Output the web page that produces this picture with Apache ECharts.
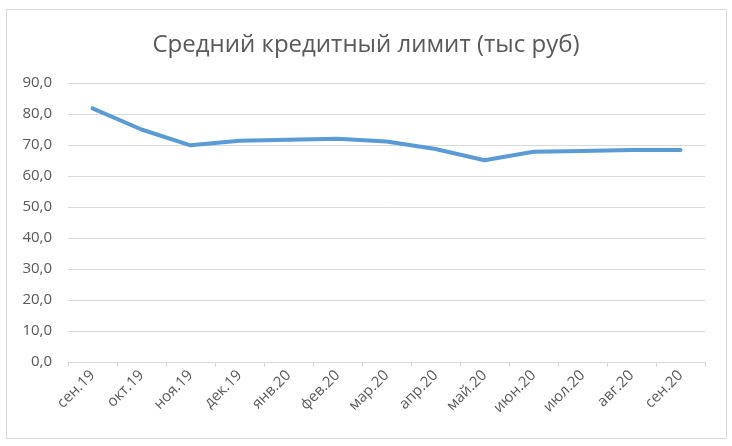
<!DOCTYPE html>
<html>
<head>
<meta charset="UTF-8">
<title></title>
<script src="https://cdn.jsdelivr.net/npm/echarts@6/dist/echarts.min.js"></script>
<style>
* { margin: 0; padding: 0; }
html, body { background: #fff; }
#app { width: 732px; height: 446px; }
</style>
</head>
<body>
<div id="app"></div>
<script>
var months = ['сен.19', 'окт.19', 'ноя.19', 'дек.19', 'янв.20', 'фев.20', 'мар.20',
	'апр.20', 'май.20', 'июн.20', 'июл.20', 'авг.20', 'сен.20'];
var limits = [81.8, 75.0, 69.9, 71.4, 71.7, 72.0, 71.1, 68.7, 65.1, 67.8, 68.1, 68.4, 68.4];
var titleText = 'Средний кредитный лимит (тыс руб)';

var myChart = echarts.init(document.getElementById('app'));
var font = 'Open Sans';

var option = {
	animation: false,
	title: {
		text: titleText,
		left: 'center',
		top: 28,
		textStyle: { fontFamily: font, fontSize: 24, fontWeight: 'normal', color: '#595959' }
	},
	graphic: [{
		type: 'rect',
		shape: { x: 6.5, y: 9.5, width: 720, height: 429 },
		style: { fill: 'none', stroke: '#d9d9d9', lineWidth: 1 },
		silent: true
	}],
	grid: { left: 68, right: 27, top: 83, bottom: 84, containLabel: false },
	xAxis: {
		type: 'category',
		data: months,
		boundaryGap: true,
		axisLine: { lineStyle: { color: '#d9d9d9', width: 1 } },
		axisTick: { show: true, length: 5, lineStyle: { color: '#d9d9d9' } },
		axisLabel: {
			interval: 0, rotate: 45, margin: 11,
			fontFamily: font, fontSize: 15, color: '#595959'
		}
	},
	yAxis: {
		type: 'value',
		min: 0, max: 90, interval: 10,
		axisLine: { show: false },
		axisTick: { show: false },
		splitLine: { lineStyle: { color: '#d9d9d9', width: 1 } },
		axisLabel: {
			margin: 16, fontFamily: font, fontSize: 15, color: '#595959',
			formatter: function (v) { return v.toFixed(1).replace('.', ','); }
		}
	},
	series: [{
		type: 'line',
		data: limits,
		symbol: 'none',
		lineStyle: { color: '#5b9bd5', width: 4, cap: 'round', join: 'round' }
	}]
};

myChart.setOption(option);
</script>
</body>
</html>
